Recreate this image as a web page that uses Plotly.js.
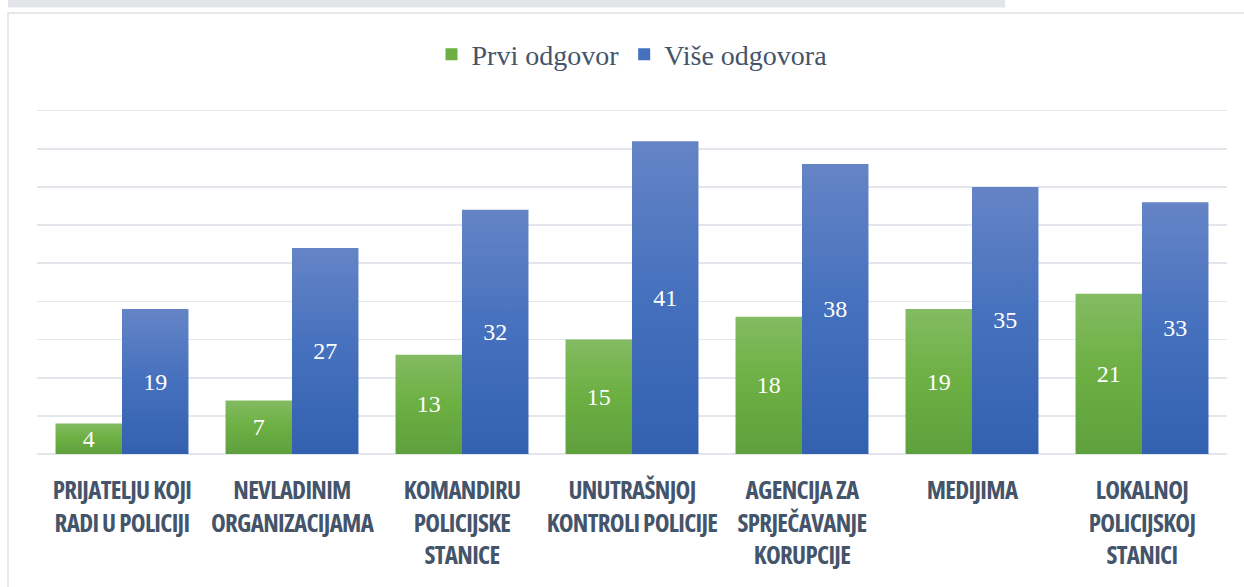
<!DOCTYPE html>
<html>
<head>
<meta charset="utf-8">
<script src="https://cdn.plot.ly/plotly-3.0.1.min.js"></script>
<style>
  html, body { margin: 0; padding: 0; background: #ffffff; }
  #chart { width: 1244px; height: 587px; }
  #chart .xtick text { font-stretch: 75% !important; letter-spacing: -0.7px; }
  #chart .barlayer .trace.bars:nth-child(1) .point path { fill: url(#gradGreen) !important; }
  #chart .barlayer .trace.bars:nth-child(2) .point path { fill: url(#gradBlue) !important; }
</style>
</head>
<body>
<svg width="0" height="0" style="position:absolute">
  <defs>
    <linearGradient id="gradGreen" x1="0" y1="0" x2="0" y2="1">
      <stop offset="0" stop-color="#83bb62"/>
      <stop offset="0.5" stop-color="#6caf42"/>
      <stop offset="1" stop-color="#5fa03e"/>
    </linearGradient>
    <linearGradient id="gradBlue" x1="0" y1="0" x2="0" y2="1">
      <stop offset="0" stop-color="#6584c6"/>
      <stop offset="0.5" stop-color="#4570bd"/>
      <stop offset="1" stop-color="#3361b0"/>
    </linearGradient>
  </defs>
</svg>
<div id="chart"></div>
<script>
const categories = [
  "PRIJATELJU KOJI<br>RADI U POLICIJI",
  "NEVLADINIM<br>ORGANIZACIJAMA",
  "KOMANDIRU<br>POLICIJSKE<br>STANICE",
  "UNUTRAŠNJOJ<br>KONTROLI POLICIJE",
  "AGENCIJA ZA<br>SPRJEČAVANJE<br>KORUPCIJE",
  "MEDIJIMA",
  "LOKALNOJ<br>POLICIJSKOJ<br>STANICI"
];
const prviOdgovor = [4, 7, 13, 15, 18, 19, 21];
const viseOdgovora = [19, 27, 32, 41, 38, 35, 33];
const seriesNames = ["Prvi odgovor", "Više odgovora"];

const numFont = { family: "Liberation Serif", size: 24, color: "#ffffff" };

const traces = [
  {
    type: "bar", name: seriesNames[0], x: categories, y: prviOdgovor,
    marker: { color: "#6caf42" },
    text: prviOdgovor.map(String), textposition: "inside", insidetextanchor: "middle",
    textangle: 0, constraintext: "none", textfont: numFont, hoverinfo: "x+y"
  },
  {
    type: "bar", name: seriesNames[1], x: categories, y: viseOdgovora,
    marker: { color: "#4570bd" },
    text: viseOdgovora.map(String), textposition: "inside", insidetextanchor: "middle",
    textangle: 0, constraintext: "none", textfont: numFont, hoverinfo: "x+y"
  }
];

const plotH = 587 - 103.4 - 133;
const px = v => (v - 37) / 1190;
const py = v => (454 - v) / plotH;

const layout = {
  width: 1244, height: 587,
  margin: { l: 37, r: 17, t: 103.4, b: 133, pad: 0 },
  paper_bgcolor: "#ffffff", plot_bgcolor: "rgba(0,0,0,0)",
  barmode: "group", bargap: 0.218, bargroupgap: 0,
  showlegend: true,
  legend: {
    orientation: "h", x: 0.5, xanchor: "center", y: py(55), yanchor: "middle",
    font: { family: "Liberation Serif", size: 28, color: "#44546a" },
    itemsizing: "constant", tracegroupgap: 0, itemwidth: 30
  },
  xaxis: {
    type: "category", showgrid: false, zeroline: false, showline: false,
    ticks: "", ticklabelstandoff: 19,
    tickfont: { family: "Open Sans", size: 25, color: "#44546a", weight: 700 },
    tickangle: 0, fixedrange: true
  },
  yaxis: {
    range: [0, 46], dtick: 5, tick0: 0, showticklabels: false,
    showgrid: true, gridcolor: "#e3e7ed", gridwidth: 1.6,
    zeroline: true, zerolinecolor: "#e3e7ed", zerolinewidth: 2,
    showline: false, ticks: "", fixedrange: true
  },
  shapes: [
    { type: "rect", xref: "paper", yref: "paper", layer: "below",
      x0: px(8), x1: px(1260), y0: py(620), y1: py(13.5),
      line: { color: "#dde1e7", width: 1.5 }, fillcolor: "rgba(0,0,0,0)" },
    { type: "rect", xref: "paper", yref: "paper", layer: "below",
      x0: px(8), x1: px(1005), y0: py(8), y1: py(-2),
      line: { width: 0 }, fillcolor: "#e4e5e8" }
  ]
};

Plotly.newPlot("chart", traces, layout, { displayModeBar: false, staticPlot: true });
</script>
</body>
</html>
